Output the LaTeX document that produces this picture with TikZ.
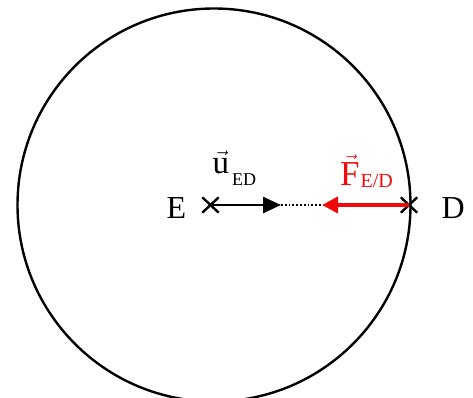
\documentclass[tikz,border=0pt]{standalone}
\usepackage{fontspec}
\setmainfont{Liberation Serif}
\usetikzlibrary{arrows.meta,shapes.misc}
\definecolor{fred}{RGB}{240,10,10}
\begin{document}
\begin{tikzpicture}[x=1pt,y=1pt,
  pt/.style={cross out,draw,line width=2.4pt,minimum width=14pt,minimum height=13pt,inner sep=0pt},
  lbl/.style={font=\fontsize{32}{36}\selectfont,inner sep=0pt,anchor=base west},
  vec/.style={inner sep=0pt,anchor=base west}]
\useasboundingbox (0,0) rectangle (473,397);
\draw[line width=2.4pt] (214,192) circle (196.5);
\node[pt] (E) at (210.5,192) {};
\node[pt] (D) at (409,192) {};
\node[lbl] (Elbl) at (166.5,179) {E};
\node[lbl] (Dlbl) at (441.5,179) {D};
\coordinate (uTip) at (281,192);
\coordinate (fTip) at (322,192);
\draw[line width=2.5pt,-{Triangle[length=18pt,width=16pt]}] (E.center) -- (uTip);
\draw[line width=1.8pt,dotted] (uTip) -- (fTip);
\draw[fred,line width=4pt,-{Triangle[length=16pt,width=16pt]}] (D.center) -- (fTip);
\node[vec] (ulbl) at (212.5,223.7) {\fontsize{33}{36}\selectfont$\vec{\mbox{u}}$\hspace{3pt}\raisebox{-12pt}{\fontsize{18}{20}\selectfont ED}};
\node[vec,text=fred] (flbl) at (340,212) {\fontsize{35}{38}\selectfont$\vec{\mbox{F}}$\hspace{1pt}\raisebox{-2pt}{\fontsize{20}{22}\selectfont E/D}};
\end{tikzpicture}
\end{document}
